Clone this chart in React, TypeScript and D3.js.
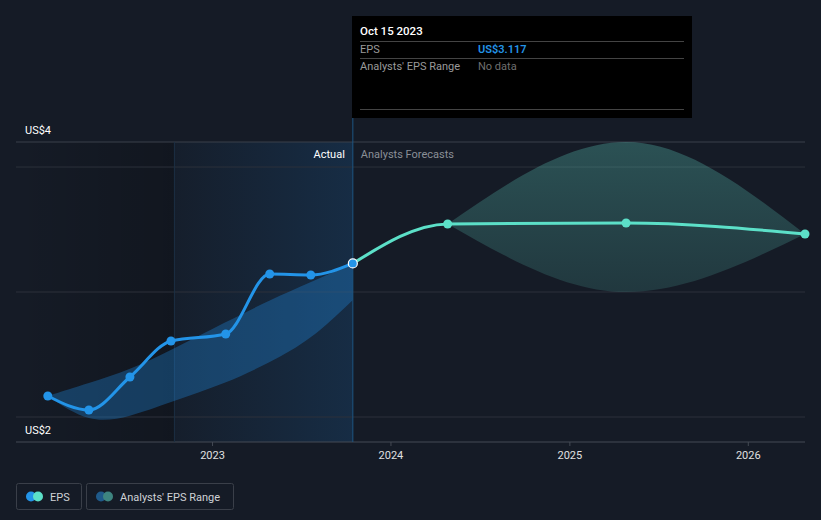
import React from "react";
import * as d3 from "d3";

const W = 821;
const H = 520;

const actualDates = ["2022-01-29", "2022-04-23", "2022-07-16", "2022-10-08", "2023-01-28", "2023-04-28", "2023-07-21", "2023-10-15"];
const actualEps = [2.153, 2.051, 2.291, 2.553, 2.604, 3.04, 3.033, 3.117];
const pastRangeLow = [2.153, 1.95, 2.0, 2.11, 2.245, 2.395, 2.56, 2.851];
const pastRangeHigh = [2.153, 2.247, 2.342, 2.487, 2.69, 2.85, 2.98, 3.117];

const forecastDates = ["2023-10-15", "2024-04-26", "2025-04-26", "2026-04-27"];
const forecastEps = [3.117, 3.404, 3.411, 3.331];
const rangeDates = ["2024-04-26", "2025-04-26", "2026-04-27"];
const rangeLow = [3.404, 2.909, 3.331];
const rangeHigh = [3.404, 4.0, 3.331];

const xTicks = ["2023-01-01", "2024-01-01", "2025-01-01", "2026-01-01"];
const xTickLabels = ["2023", "2024", "2025", "2026"];
const gridValues = [2, 2.909, 3.818, 4];
const yLabels = ["US$4", "US$2"];

const p = (s: string) => new Date(s + "T00:00:00");

export default function App() {
  const x = d3.scaleTime().domain([p("2021-11-27"), p("2026-04-27")]).range([17, 805]);
  const y = d3.scaleLinear().domain([2, 4]).range([417, 142]);

  const actual = actualDates.map((d, i) => ({ d: p(d), v: actualEps[i], lo: pastRangeLow[i], hi: pastRangeHigh[i] }));
  const forecast = forecastDates.map((d, i) => ({ d: p(d), v: forecastEps[i] }));
  const range = rangeDates.map((d, i) => ({ d: p(d), lo: rangeLow[i], hi: rangeHigh[i] }));

  const line = d3.line<any>().x((d) => x(d.d)).y((d) => y(d.v)).curve(d3.curveMonotoneX);
  const pastArea = d3.area<any>().x((d) => x(d.d)).y0((d) => y(d.lo)).y1((d) => y(d.hi)).curve(d3.curveBasis);
  const fArea = d3.area<any>().x((d) => x(d.d)).y0((d) => y(d.lo)).y1((d) => y(d.hi)).curve(d3.curveMonotoneX);

  const now = p("2023-10-15");
  const yearAgo = p("2022-10-15");
  const xNow = x(now);
  const xAgo = x(yearAgo);
  const axisY = 442;
  const font = "Roboto, 'Open Sans', sans-serif";

  return (
    <svg width={W} height={H} style={{ position: "fixed", left: 0, top: 0, background: "#151b26" }} fontFamily={font}>
      <defs>
        <linearGradient id="leftShade" x1="0" x2="1" y1="0" y2="0">
          <stop offset="0" stopColor="#000" stopOpacity="0" />
          <stop offset="1" stopColor="#000" stopOpacity="0.18" />
        </linearGradient>
        <linearGradient id="pastYear" x1="0" x2="1" y1="0" y2="0">
          <stop offset="0" stopColor="#1e88e5" stopOpacity="0.03" />
          <stop offset="1" stopColor="#1e88e5" stopOpacity="0.16" />
        </linearGradient>
        <linearGradient id="fcBand" x1="0" x2="0" y1="0" y2="1">
          <stop offset="0" stopColor="#5fd0c0" stopOpacity="0.3" />
          <stop offset="1" stopColor="#5fd0c0" stopOpacity="0.16" />
        </linearGradient>
      </defs>
      <rect x={0} y={0} width={W} height={H} fill="#151b26" />
      <rect x={17} y={142} width={xAgo - 17} height={axisY - 142} fill="url(#leftShade)" />
      <rect x={xAgo} y={142} width={xNow - xAgo} height={axisY - 142} fill="url(#pastYear)" />

      {gridValues.map((g, i) => (
        <line key={i} x1={16} x2={805} y1={y(g)} y2={y(g)} stroke={g === 4 ? "#3b404a" : "#2c313b"} strokeWidth={1} />
      ))}
      <line x1={16} x2={805} y1={axisY} y2={axisY} stroke="#444a54" strokeWidth={1} />
      {xTicks.map((t, i) => (
        <g key={t}>
          <line x1={x(p(t))} x2={x(p(t))} y1={axisY} y2={axisY + 4} stroke="#444a54" />
          <text x={x(p(t))} y={459} textAnchor="middle" fill="#e0e0e0" fontSize={11}>{xTickLabels[i]}</text>
        </g>
      ))}

      <line x1={xAgo} x2={xAgo} y1={142} y2={axisY} stroke="#1b2f44" strokeWidth={1} />

      <path d={pastArea(actual) || ""} fill="#2196f3" fillOpacity={0.3} />
      <path d={fArea(range) || ""} fill="url(#fcBand)" />

      <line x1={xNow} x2={xNow} y1={118} y2={axisY} stroke="#1d5582" strokeWidth={1} />

      <path d={line(forecast) || ""} fill="none" stroke="#5ce0c8" strokeWidth={3} />
      <path d={line(actual) || ""} fill="none" stroke="#2394e8" strokeWidth={3} />

      {actual.slice(0, -1).map((d, i) => (
        <circle key={i} cx={x(d.d)} cy={y(d.v)} r={4.5} fill="#2394e8" />
      ))}
      {forecast.slice(1).map((d, i) => (
        <circle key={i} cx={x(d.d)} cy={y(d.v)} r={4.5} fill="#5ce0c8" />
      ))}
      <circle cx={xNow} cy={y(actualEps[actualEps.length - 1])} r={4.5} fill="#2394e8" stroke="#fff" strokeWidth={1.2} />

      <text x={xNow - 8} y={158} textAnchor="end" fill="#ffffff" fontSize={11}>Actual</text>
      <text x={xNow + 8} y={158} fill="#8a8f96" fontSize={11}>Analysts Forecasts</text>

      <text x={25} y={134} fill="#ffffff" fontSize={11}>{yLabels[0]}</text>
      <text x={25} y={434} fill="#ffffff" fontSize={11}>{yLabels[1]}</text>

      <g>
        <rect x={352} y={16} width={340} height={102} fill="#000" />
        <text x={360} y={35} fill="#fff" fontSize={11.5} fontWeight={500}>Oct 15 2023</text>
        <line x1={360} x2={684} y1={41.5} y2={41.5} stroke="#444" />
        <text x={360} y={53} fill="#9a9a9a" fontSize={11}>EPS</text>
        <text x={478} y={53} fill="#2394e8" fontSize={11} fontWeight={600}>US$3.117</text>
        <line x1={360} x2={684} y1={58.5} y2={58.5} stroke="#444" />
        <text x={360} y={70} fill="#9a9a9a" fontSize={11}>Analysts' EPS Range</text>
        <text x={478} y={70} fill="#6f6f6f" fontSize={11}>No data</text>
        <line x1={360} x2={684} y1={109.5} y2={109.5} stroke="#444" />
      </g>

      <g>
        <rect x={16.5} y={483.5} width={65} height={26} rx={2} fill="none" stroke="#3a3f49" />
        <circle cx={31} cy={496.5} r={5} fill="#2394e8" />
        <circle cx={38} cy={496.5} r={5} fill="#5ce0c8" />
        <text x={50} y={500.5} fill="#cfd2d6" fontSize={11}>EPS</text>
        <rect x={86.5} y={483.5} width={147} height={26} rx={2} fill="none" stroke="#3a3f49" />
        <circle cx={101} cy={496.5} r={5} fill="#1f5a8a" />
        <circle cx={108} cy={496.5} r={5} fill="#3e8580" />
        <text x={120} y={500.5} fill="#cfd2d6" fontSize={11}>Analysts' EPS Range</text>
      </g>
    </svg>
  );
}
